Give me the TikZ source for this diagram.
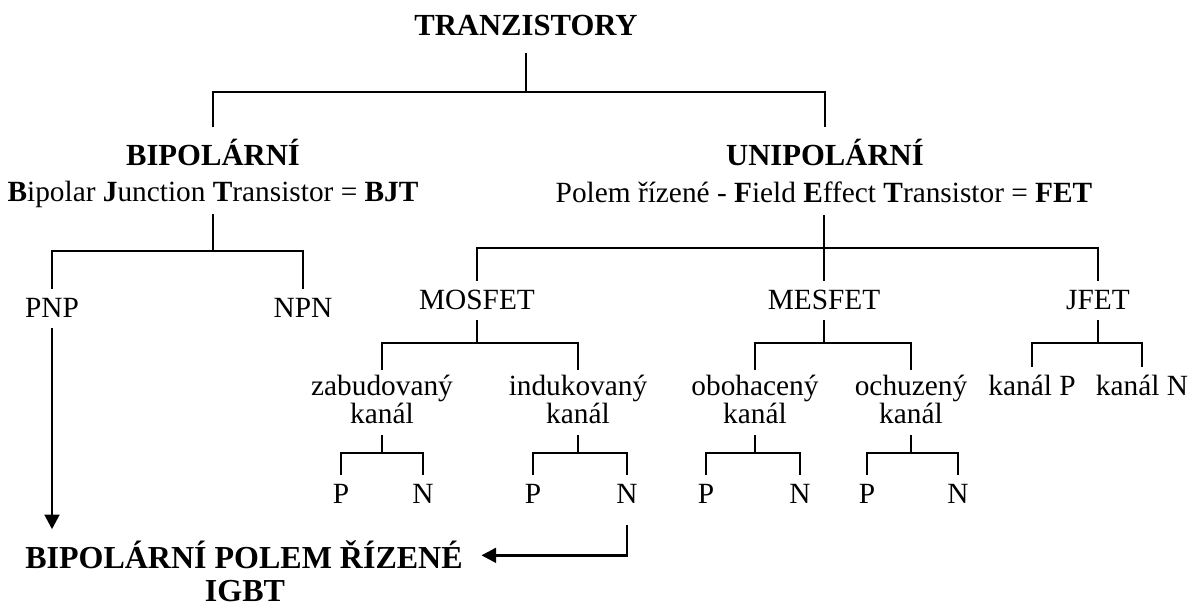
\documentclass[tikz,border=0pt]{standalone}
\usepackage{fontspec}
\setmainfont{Liberation Serif}
\usetikzlibrary{arrows.meta}

\begin{document}
\begin{tikzpicture}[x=0.75pt, y=-0.75pt, line width=2.1pt,
	title/.style={anchor=base, font=\fontsize{23pt}{27pt}\selectfont\bfseries, inner ysep=3pt, text height=25pt, text depth=9pt},
	sub/.style={anchor=base, font=\fontsize{22pt}{26pt}\selectfont, inner ysep=3pt, text height=17pt, text depth=6pt},
	leaf/.style={anchor=base, font=\fontsize{22pt}{26pt}\selectfont, inner ysep=3pt, text height=17pt, text depth=4.5pt},
	pair/.style={anchor=north, align=center, font=\fontsize{22pt}{21pt}\selectfont, inner ysep=3pt},
	igbt/.style={anchor=base, font=\fontsize{24pt}{28pt}\selectfont\bfseries, inner xsep=0pt, inner ysep=3pt, text height=25pt, text depth=6pt},
	arr/.style={-{Triangle[length=11pt, width=11pt]}}]
	\useasboundingbox (0, 0) rectangle (1200, 610);
	% Root
	\node [title] (tranz) at (526, 36) {TRANZISTORY};
	\coordinate (root-bar) at (526, 92);
	\draw (tranz.south) -- (root-bar);
	% Second layer
	\node [title] (bjt) at (213, 166) {BIPOLÁRNÍ};
	\node [sub] (bjt-sub) at (213, 201) {\textbf{B}ipolar \textbf{J}unction \textbf{T}ransistor = \textbf{BJT}};
	\node [title] (fet) at (825, 166) {UNIPOLÁRNÍ};
	\node [sub] (fet-sub) at (824, 202) {Polem řízené - \textbf{F}ield \textbf{E}ffect \textbf{T}ransistor = \textbf{FET}};
	\draw (bjt.north) |- (root-bar) -| (fet.north);
	% Third layer
	\coordinate (bjt-bar) at (213, 251);
	\draw (bjt-sub.south) -- (bjt-bar);
	\foreach \nm/\x/\txt in {pnp/52/PNP, npn/303/NPN}
		\node [leaf] (\nm) at (\x, 317) {\txt};
	\draw (pnp.north) |- (bjt-bar) -| (npn.north);
	\coordinate (fet-bar) at (824, 248);
	\draw (fet-sub.south) -- (fet-bar);
	\foreach \nm/\x/\txt in {mosfet/477/MOSFET, mesfet/824/MESFET, jfet/1098/JFET}
		\node [leaf] (\nm) at (\x, 309) {\txt};
	\draw (mosfet.north) |- (fet-bar) -| (jfet.north);
	\draw (fet-bar) -- (mesfet.north);
	% Fourth layer
	\foreach \nm/\x/\txt in {zab/382/zabudovaný, ind/578/indukovaný, obo/755/obohacený, och/911/ochuzený}
		\node [pair] (\nm) at (\x, 370) {\txt\\kanál};
	\foreach \nm/\x/\txt in {kp/1032/kanál P, kn/1142/kanál N}
		\node [leaf] (\nm) at (\x, 395) {\txt};
	\foreach \up/\x/\a/\b in {mosfet/477/zab/ind, mesfet/824/obo/och, jfet/1098/kp/kn} {
		\coordinate (\up-bar) at (\x, 343);
		\draw (\up.south) -- (\up-bar);
		\draw (\a.north) |- (\up-bar) -| (\b.north);
	}
	% Fifth layer
	\foreach \nm/\x/\px/\nx in {zab/382/341/423, ind/578/533/627, obo/755/706/800, och/911/867/958} {
		\node [leaf] (\nm-p) at (\px, 503) {P};
		\node [leaf] (\nm-n) at (\nx, 503) {N};
		\coordinate (\nm-bar) at (\x, 453);
		\draw [shorten <=4pt] (\nm.south) -- (\nm-bar);
		\draw (\nm-p.north) |- (\nm-bar) -| (\nm-n.north);
	}
	% IGBT
	\node [igbt] (igbt-1) at (244, 568) {BIPOLÁRNÍ POLEM ŘÍZENÉ};
	\node [igbt, text depth=0pt, inner ysep=0pt] (igbt-2) at (245, 601) {IGBT};
	\draw [arr] (pnp.south) -- (pnp.south |- igbt-1.north);
	\draw [arr, shorten <=8pt, shorten >=13pt] (ind-n.south) |- (igbt-1.east);
\end{tikzpicture}
\end{document}
